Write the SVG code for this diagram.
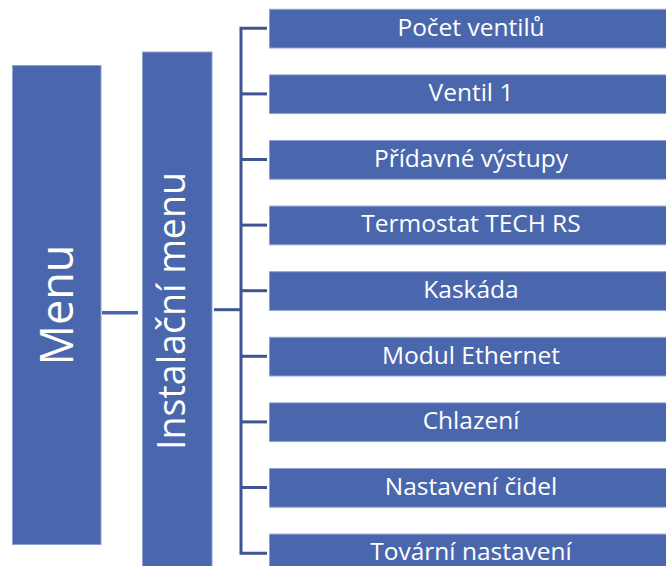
<svg xmlns="http://www.w3.org/2000/svg" width="666" height="566" viewBox="0 0 666 566">
<style>
.box{fill:#4A67AD;stroke:#8FA2CF;stroke-width:1}
.t{fill:#FFFFFF;font-family:"Open Sans","Noto Sans",sans-serif;text-anchor:middle}
.c{font-size:24.5px}
.con{stroke:#3E5592;stroke-width:3;fill:none}
</style>
<rect width="666" height="566" fill="#FFFFFF"/>
<g id="connectors">
<line x1="102" y1="312.7" x2="138" y2="312.7" stroke="#4A67AD" stroke-width="3.5"/>
<line class="con" x1="214" y1="309.7" x2="241" y2="309.7"/>
<path class="con" d="M267 28.3 H241 V553.3 H267"/>
<line class="con" x1="241" y1="93.9" x2="267" y2="93.9"/>
<line class="con" x1="241" y1="159.5" x2="267" y2="159.5"/>
<line class="con" x1="241" y1="225.1" x2="267" y2="225.1"/>
<line class="con" x1="241" y1="290.7" x2="267" y2="290.7"/>
<line class="con" x1="241" y1="356.3" x2="267" y2="356.3"/>
<line class="con" x1="241" y1="421.9" x2="267" y2="421.9"/>
<line class="con" x1="241" y1="487.5" x2="267" y2="487.5"/>
</g>
<g id="menu">
<rect class="box" x="12.5" y="65.5" width="88.5" height="479"/>
<text class="t" transform="translate(72.5,305) rotate(-90)" style="font-size:45px">Menu</text>
</g>
<g id="instalacni-menu">
<rect class="box" x="142.5" y="52" width="69.5" height="520"/>
<text class="t" transform="translate(184.5,311) rotate(-90)" style="font-size:37.5px">Instalační menu</text>
</g>
<g id="n1"><rect class="box" x="269.5" y="9.3" width="404" height="38.7"/><text class="t c" x="471" y="35.5">Počet ventilů</text></g>
<g id="n2"><rect class="box" x="269.5" y="74.9" width="404" height="38.7"/><text class="t c" x="471" y="101.1">Ventil 1</text></g>
<g id="n3"><rect class="box" x="269.5" y="140.5" width="404" height="38.7"/><text class="t c" x="471" y="166.7">Přídavné výstupy</text></g>
<g id="n4"><rect class="box" x="269.5" y="206.1" width="404" height="38.7"/><text class="t c" x="471" y="232.3">Termostat TECH RS</text></g>
<g id="n5"><rect class="box" x="269.5" y="271.7" width="404" height="38.7"/><text class="t c" x="471" y="297.9">Kaskáda</text></g>
<g id="n6"><rect class="box" x="269.5" y="337.3" width="404" height="38.7"/><text class="t c" x="471" y="363.5">Modul Ethernet</text></g>
<g id="n7"><rect class="box" x="269.5" y="402.9" width="404" height="38.7"/><text class="t c" x="471" y="429.1">Chlazení</text></g>
<g id="n8"><rect class="box" x="269.5" y="468.5" width="404" height="38.7"/><text class="t c" x="471" y="494.7">Nastavení čidel</text></g>
<g id="n9"><rect class="box" x="269.5" y="534.1" width="404" height="38.7"/><text class="t c" x="471" y="560.3">Tovární nastavení</text></g>
</svg>
